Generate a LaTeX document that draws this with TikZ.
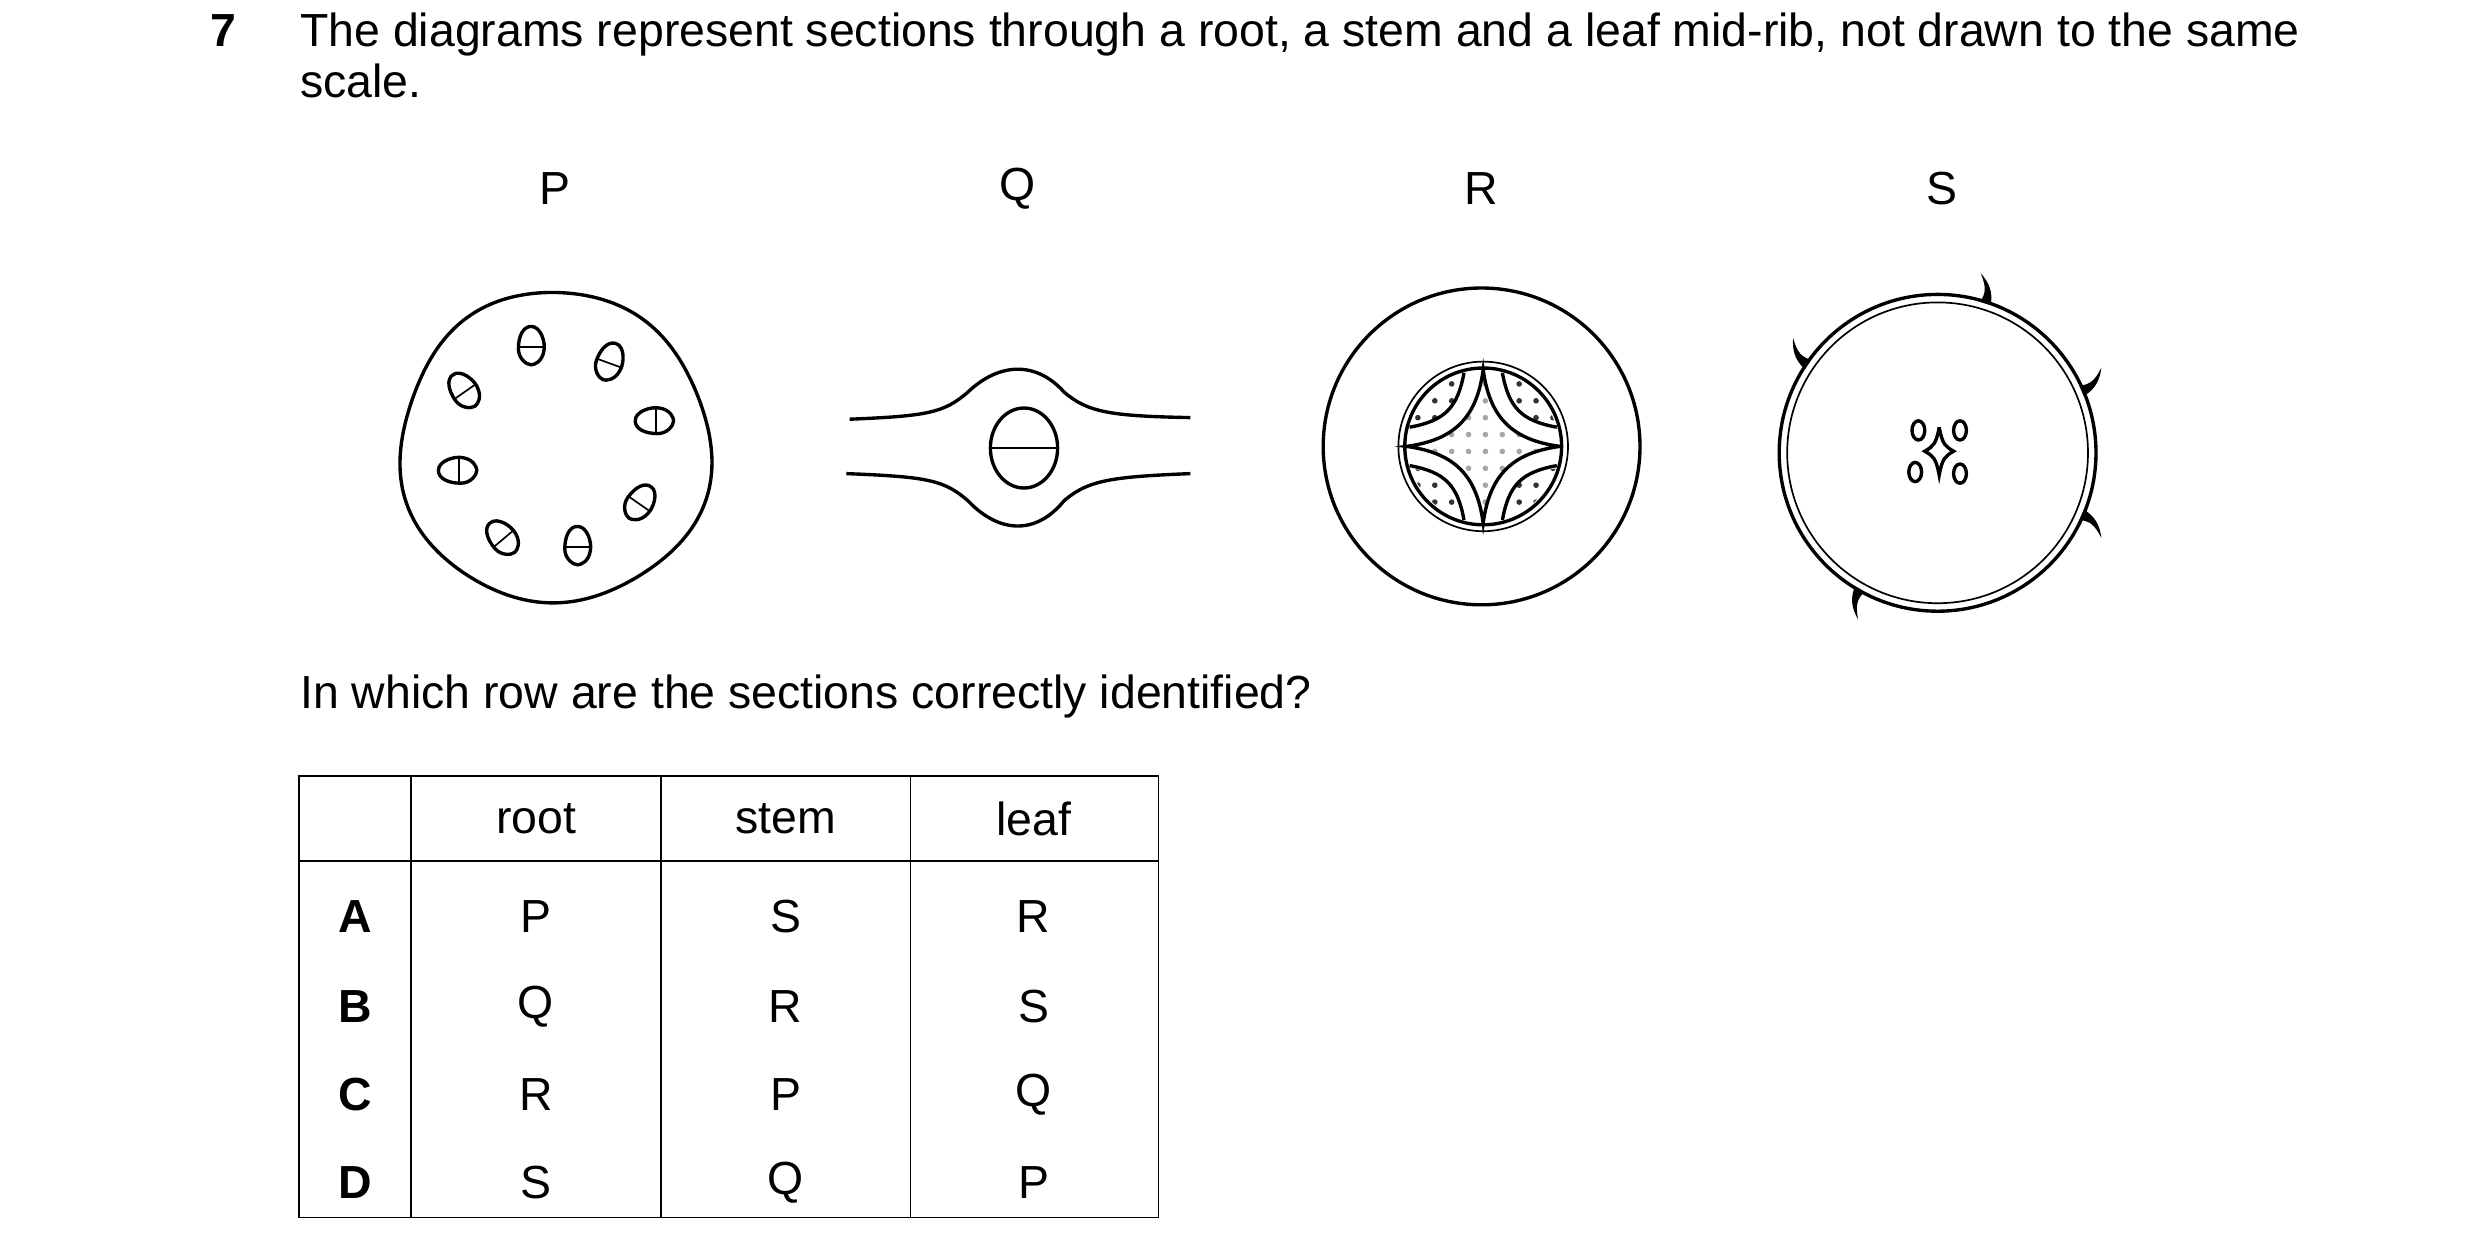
\documentclass[tikz,border=0pt]{standalone}
\usepackage{fontspec}
\setmainfont{Liberation Sans}
\usetikzlibrary{patterns}
\begin{document}
\begin{tikzpicture}[x=0.01cm,y=-0.01cm,
  txt/.style={anchor=base west,inner sep=0,font=\fontsize{8.25}{9.4}\selectfont},
  lbl/.style={inner sep=0,font=\fontsize{8.25}{10}\selectfont},
  thk/.style={line width=0.6pt},
  thn/.style={line width=0.3pt},
  bund/.style={thk}]
\useasboundingbox (0,0) rectangle (1550,778);
% question text
\node[txt,font=\fontsize{8.25}{10}\selectfont\bfseries] (num) at (131,29) {7};
\node[txt] (line1) at (187,29) {The diagrams represent sections through a root, a stem and a leaf mid-rib, not drawn to the same};
\node[txt] (line2) at ([yshift=-0.32cm]line1.base west) {scale.};
\node[lbl] (lP) at (347,118) {P};
\node[lbl] (lQ) at (636,118) {Q};
\node[lbl] (lR) at (926,118) {R};
\node[lbl] (lS) at (1214,118) {S};
% ---------- P ----------
\draw[thk] plot[domain=0:360,samples=90,smooth cycle] ({347+(97+1.5*sin(3*\x+20)+1.2*sin(5*\x))*cos(\x)},{280+(97+1.5*sin(3*\x+20)+1.2*sin(5*\x))*sin(\x)});
\foreach \x/\y/\a in {332/216/0,381/226/-20,290/244/35,409/263/90,286/294/90,400/314/-35,314/336/40,361/341/0}{
  \begin{scope}[shift={(\x,\y)},rotate=\a]
  \draw[bund] (0,-12) .. controls (6,-12) and (9,-2) .. (8,3) .. controls (7,10) and (2,12) .. (0,12) .. controls (-3,12) and (-8,8) .. (-8,2) .. controls (-8,-6) and (-5,-12) .. (0,-12);
  \draw[thn] (-8,1) -- (8,1);
  \end{scope}}
% ---------- Q ----------
\draw[thk] (531,262) .. controls (580,260) and (590,258) .. (605,245) .. controls (625,226) and (648,226) .. (665,245) .. controls (680,258) and (695,260) .. (744,261);
\draw[thk] (529,296) .. controls (580,298) and (590,300) .. (605,313) .. controls (625,334) and (648,334) .. (665,313) .. controls (680,300) and (695,298) .. (744,296);
\draw[thk] (640,280) ellipse [x radius=21,y radius=25];
\draw[thn] (619,280) -- (661,280);
% ---------- R ----------
\draw[thk] (926,279) circle [radius=99];
\draw[thn] (927,279) circle [radius=53];
\draw[thk] (927,279) circle [radius=49];
\begin{scope}[shift={(927,279)}]
  \foreach \r in {0,90,180,270}{
    \begin{scope}[rotate=\r]
    \fill[pattern=dots,pattern color=black!80] (45,14) .. controls (24,16) and (16,24) .. (14,45) arc[start angle=73,end angle=17,radius=47] -- cycle;
    \draw[thk] (46,12) .. controls (24,16) and (16,24) .. (12,46);
    \end{scope}}
  \fill[pattern=dots,pattern color=black!35] (48,0) .. controls (18,4) and (4,18) .. (0,48) .. controls (-4,18) and (-18,4) .. (-48,0) .. controls (-18,-4) and (-4,-18) .. (0,-48) .. controls (4,-18) and (18,-4) .. (48,0);
  \draw[thk] (48,0) .. controls (18,4) and (4,18) .. (0,48) .. controls (-4,18) and (-18,4) .. (-48,0) .. controls (-18,-4) and (-4,-18) .. (0,-48) .. controls (4,-18) and (18,-4) .. (48,0);
\end{scope}
% ---------- S ----------
\draw[thk] (1211,283) circle [radius=99];
\draw[thn] (1211,283) circle [radius=94];
\begin{scope}[shift={(1211,283)}]
  \foreach \a/\s in {72/1,146/-1,23/1,-23/-1,-120/1}{
    \begin{scope}[rotate=\a,yscale=\s]
    \fill (98,-4) .. controls (104,-2) and (108,-3) .. (115,-9) .. controls (111,-2) and (106,2) .. (98,3) -- cycle;
    \end{scope}}
\end{scope}
\begin{scope}[shift={(1212,282)}]
  \draw[thk] (-13,-13) ellipse [x radius=4,y radius=6];
  \draw[thk] (13,-13) ellipse [x radius=4,y radius=6];
  \draw[thk] (-15,13) ellipse [x radius=4,y radius=6];
  \draw[thk] (13,14) ellipse [x radius=4,y radius=6];
  \draw[thk] (0,-15) .. controls (2,-4) and (4,-3) .. (9,0) .. controls (4,3) and (2,4) .. (0,15) .. controls (-2,4) and (-4,3) .. (-9,0) .. controls (-4,-3) and (-2,-4) .. (0,-15);
\end{scope}
% ---------- question ----------
\node[txt] (q) at (187,443) {In which row are the sections correctly identified?};
% ---------- table ----------
\draw[thn] (187,485) rectangle (724,761);
\draw[thn] (187,538) -- (724,538);
\foreach \x in {257,413,569} \draw[thn] (\x,485) -- (\x,761);
\node[lbl] (h1) at (335,512) {root};
\node[lbl] (h2) at (491,512) {stem};
\node[lbl] (h3) at (646,512) {leaf};
\foreach \l/\a/\b/\c/\y in {A/P/S/R/573,B/Q/R/S/629,C/R/P/Q/684,D/S/Q/P/739}{
  \node[lbl,font=\fontsize{8.25}{10}\selectfont\bfseries] (r\l) at (222,\y) {\l};
  \node[lbl] (r\l1) at (335,\y) {\a};
  \node[lbl] (r\l2) at (491,\y) {\b};
  \node[lbl] (r\l3) at (646,\y) {\c};}
\end{tikzpicture}
\end{document}
